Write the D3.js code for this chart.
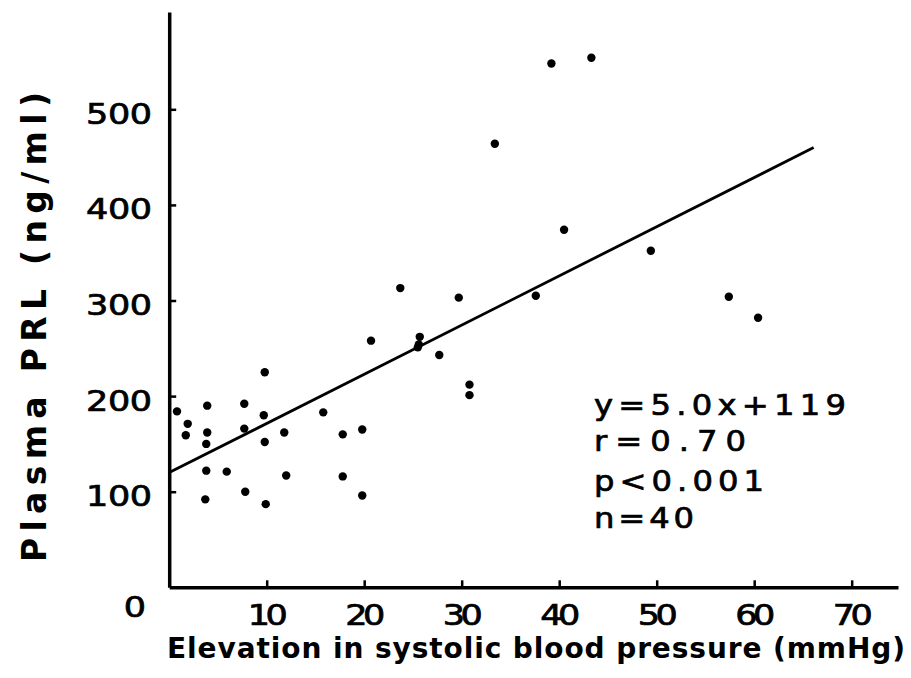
<!DOCTYPE html>
<html>
<head>
<meta charset="utf-8">
<script src="https://cdn.jsdelivr.net/npm/d3@7"></script>
<style>
  html, body { margin: 0; padding: 0; background: #fff; }
  svg { display: block; }
  text { fill: #000; }
</style>
</head>
<body>
<script>
// ---- data ----
const elevation = [9.8, 0.8, 3.9, 7.7, 9.7, 15.8, 1.9, 1.7, 3.9, 7.7,
                   11.8, 17.8, 19.8, 9.8, 3.8, 3.8, 5.9, 12.0, 17.8, 7.8,
                   3.7, 9.9, 19.8, 23.7, 29.7, 37.6, 20.7, 25.7, 25.6, 27.7,
                   30.8, 30.8, 39.2, 43.3, 33.4, 40.5, 49.4, 57.4, 60.4, 25.5];
const prl       = [225, 184, 190, 192, 180, 183, 171, 159, 162, 166,
                   162, 160, 165, 152, 150, 122, 121, 117, 116, 100,
                   92, 87, 96, 313, 303, 305, 258, 262, 254, 243,
                   212, 201, 548, 554, 464, 374, 352, 304, 282, 251];
const fitX = [0, 66.1];
const fitY = [120, 460];
const xTicks = [10, 20, 30, 40, 50, 60, 70];
const yTicks = [100, 200, 300, 400, 500];
const statsLines = ["y=5.0x+119", "r=0.70", "p<0.001", "n=40"];
const xTitle = "Elevation in systolic blood pressure (mmHg)";
const yTitle = "Plasma PRL (ng/ml)";

// ---- layout ----
const W = 911, H = 678;
const svg = d3.select("body").append("svg").attr("width", W).attr("height", H);

const x = d3.scaleLinear().domain([0, 74.75]).range([169.2, 898]);
const y = d3.scaleLinear().domain([0, 601.8]).range([587.3, 12]);

const font = "'DejaVu Sans', sans-serif";
const SX = 1.25; // horizontal widening of the numeric glyphs

// axes (ticks inward)
const gx = svg.append("g").attr("transform", `translate(0,${y(0)})`)
  .call(d3.axisBottom(x).tickValues(xTicks).tickSize(-7).tickPadding(0).tickSizeOuter(0));
const gy = svg.append("g").attr("transform", `translate(${x(0)},0)`)
  .call(d3.axisLeft(y).tickValues(yTicks).tickSize(-7).tickPadding(0).tickSizeOuter(0));

[gx, gy].forEach(g => {
  g.select(".domain").attr("stroke", "#000").attr("stroke-width", 3.5);
  g.selectAll(".tick line").attr("stroke", "#000").attr("stroke-width", 2.5);
  g.selectAll(".tick text").remove();
});

function numText(sel) {
  return sel.attr("font-family", font).attr("font-size", 28)
    .attr("stroke", "#000").attr("stroke-width", 0.7);
}

// tick labels
svg.append("g").selectAll("g").data(xTicks).join("g")
  .attr("transform", d => `translate(${x(d) + 1},625) scale(${SX},1)`)
  .append("text")
  .attr("text-anchor", "middle")
  .attr("textLength", 40 / SX).attr("lengthAdjust", "spacing")
  .call(numText)
  .text(d => d);

svg.append("g").selectAll("g").data(yTicks).join("g")
  .attr("transform", d => `translate(152,${y(d) + 14.5}) scale(${SX},1)`)
  .append("text")
  .attr("text-anchor", "end")
  .attr("textLength", 66 / SX).attr("lengthAdjust", "spacing")
  .call(numText)
  .text(d => d);

svg.append("g").attr("transform", `translate(135,617) scale(${SX},1)`)
  .append("text")
  .attr("text-anchor", "middle")
  .call(numText)
  .text("0");

// regression line
svg.append("line")
  .attr("x1", x(fitX[0])).attr("y1", y(fitY[0]))
  .attr("x2", x(fitX[1])).attr("y2", y(fitY[1]))
  .attr("stroke", "#000").attr("stroke-width", 2.8);

// points
svg.append("g").selectAll("circle").data(elevation.map((e, i) => [e, prl[i]])).join("circle")
  .attr("cx", d => x(d[0])).attr("cy", d => y(d[1]))
  .attr("r", 4.2).attr("fill", "#000");

// stats annotation
const statBase = [415, 451, 490.5, 528];
const statLen = [252, 152, 170, 100];
svg.append("g").selectAll("g").data(statsLines).join("g")
  .attr("transform", (d, i) => `translate(594,${statBase[i]}) scale(1.15,1)`)
  .append("text")
  .attr("textLength", (d, i) => statLen[i] / 1.15).attr("lengthAdjust", "spacing")
  .call(numText)
  .text(d => d);

// axis titles
svg.append("text")
  .attr("x", 167).attr("y", 658)
  .attr("font-family", font).attr("font-size", 28).attr("font-weight", "bold")
  .attr("textLength", 738).attr("lengthAdjust", "spacing")
  .text(xTitle);

svg.append("text")
  .attr("transform", "translate(46,562) rotate(-90)")
  .attr("x", 0).attr("y", 0)
  .attr("font-family", font).attr("font-size", 33).attr("font-weight", "bold")
  .attr("textLength", 470).attr("lengthAdjust", "spacing")
  .text(yTitle);
</script>
</body>
</html>
